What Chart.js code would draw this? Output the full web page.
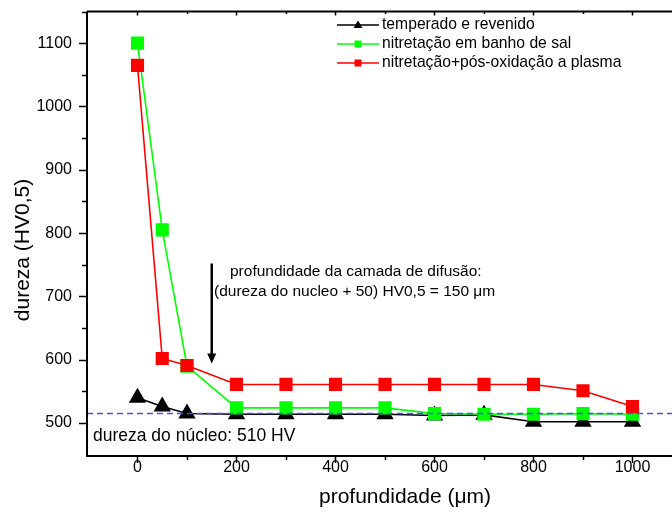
<!DOCTYPE html>
<html><head><meta charset="utf-8">
<script src="https://cdn.jsdelivr.net/npm/chart.js@4.4.1/dist/chart.umd.min.js"></script>
<style>
html,body{margin:0;padding:0;overflow:hidden;background:#fff;width:672px;height:513px}
#wrap{width:700px;height:513px}
</style>
</head><body>
<div id="wrap"><canvas id="c" width="700" height="513"></canvas></div>
<script>
// ---- data ----
const depth = [0, 50, 100, 200, 300, 400, 500, 600, 700, 800, 900, 1000];
const temperadoRevenido = [540, 526, 515, 514, 514, 514, 514, 512, 513, 502, 502, 502];
const nitretacaoBanhoSal = [1100, 805, 590, 524, 524, 524, 524, 515, 514, 514, 515, 514];
const nitretacaoPlasma = [1065, 602, 591, 561, 561, 561, 561, 561, 561, 561, 551, 526];
const seriesLabels = ['temperado e revenido', 'nitretação em banho de sal', 'nitretação+pós-oxidação a plasma'];
const coreHardness = 515;          // dashed reference line
const diffusionDepth = 150;        // arrow position (µm)
const arrowRange = [752, 594];     // arrow from / to (HV)
const xTickLabels = [0, 200, 400, 600, 800, 1000];
const xMinorTicks = [100, 300, 500, 700, 900, 1100];
const yTickLabels = [500, 600, 700, 800, 900, 1000, 1100];
const yMinorTicks = [550, 650, 750, 850, 950, 1050, 1150];
const xTitle = 'profundidade (\u03bcm)';
const yTitle = 'dureza (HV0,5)';
const xRange = [-102, 1100];
const yRange = [448, 1150];

const FONT = '"Liberation Sans", Arial, Helvetica, sans-serif';
const colors = ['#000000', '#00ff00', '#ff0000'];
const styles = ['triangle', 'rect', 'rect'];
const radii = [10, 9.3, 9.3];
const seriesData = [temperadoRevenido, nitretacaoBanhoSal, nitretacaoPlasma];

const datasets = seriesData.map((vals, i) => ({
  label: seriesLabels[i],
  data: depth.map((x, j) => ({x, y: vals[j]})),
  borderColor: colors[i],
  backgroundColor: colors[i],
  pointBackgroundColor: colors[i],
  pointBorderColor: colors[i],
  pointBorderWidth: 0,
  pointStyle: styles[i],
  pointRadius: radii[i],
  pointHoverRadius: radii[i],
  borderWidth: 1.6,
  tension: 0,
  order: 3 - i
}));
datasets.push({
  label: 'núcleo',
  data: [{x: xRange[0], y: coreHardness}, {x: xRange[1], y: coreHardness}],
  borderColor: '#4d4dff',
  borderWidth: 1.5,
  borderDash: [6, 4],
  pointRadius: 0,
  order: 0
});

const framePlugin = {
  id: 'frame',
  afterDraw(chart) {
    const {ctx, chartArea: a, scales: {x, y}} = chart;
    ctx.save();
    ctx.strokeStyle = '#000';
    ctx.lineWidth = 2;
    ctx.beginPath();
    ctx.moveTo(a.left, a.top); ctx.lineTo(a.left, a.bottom + 1);
    ctx.moveTo(a.left - 1, a.bottom); ctx.lineTo(a.right, a.bottom);
    ctx.moveTo(a.left, a.top); ctx.lineTo(a.right, a.top);
    ctx.stroke();
    ctx.lineWidth = 1.5;
    ctx.beginPath();
    const xt = (v, major) => {
      const px = Math.round(x.getPixelForValue(v)) + 0.5;
      ctx.moveTo(px, a.bottom); ctx.lineTo(px, a.bottom + (major ? 7 : 4));
      ctx.moveTo(px, a.top); ctx.lineTo(px, a.top + (major ? 4 : 2.5));
    };
    const yt = (v, major) => {
      const py = Math.round(y.getPixelForValue(v)) + 0.5;
      ctx.moveTo(a.left, py); ctx.lineTo(a.left - (major ? 8 : 5), py);
    };
    xTickLabels.forEach(v => xt(v, true));
    xMinorTicks.forEach(v => xt(v, false));
    yTickLabels.forEach(v => yt(v, true));
    yMinorTicks.forEach(v => yt(v, false));
    ctx.stroke();

    // tick labels
    ctx.fillStyle = '#000';
    ctx.font = '16px ' + FONT;
    ctx.textBaseline = 'middle';
    ctx.textAlign = 'center';
    xTickLabels.forEach(v => ctx.fillText(String(v), x.getPixelForValue(v), a.bottom + 12));
    ctx.textAlign = 'right';
    yTickLabels.forEach(v => ctx.fillText(String(v), a.left - 15, y.getPixelForValue(v)));

    // axis titles
    ctx.font = '21px ' + FONT;
    ctx.textAlign = 'center';
    ctx.fillText(xTitle, 405, 497);
    ctx.save();
    ctx.translate(23, 250);
    ctx.rotate(-Math.PI / 2);
    ctx.fillText(yTitle, 0, 0);
    ctx.restore();

    // arrow
    const ax = x.getPixelForValue(diffusionDepth);
    const ay0 = y.getPixelForValue(arrowRange[0]);
    const ay1 = y.getPixelForValue(arrowRange[1]);
    ctx.lineWidth = 2.5;
    ctx.beginPath();
    ctx.moveTo(ax, ay0); ctx.lineTo(ax, ay1 - 8);
    ctx.stroke();
    ctx.beginPath();
    ctx.moveTo(ax - 4.5, ay1 - 10); ctx.lineTo(ax + 4.5, ay1 - 10); ctx.lineTo(ax, ay1);
    ctx.closePath(); ctx.fill();

    // annotation texts
    ctx.textAlign = 'left';
    ctx.font = '15.5px ' + FONT;
    ctx.fillText('profundidade da camada de difusão:', 230, 272);
    ctx.fillText('(dureza do nucleo + 50) HV0,5 = 150 \u03bcm', 214, 292);
    ctx.font = '17.5px ' + FONT;
    ctx.fillText('dureza do núcleo: 510 HV', 93, 436);

    // legend
    const rows = [25, 44, 63];
    seriesLabels.forEach((lab, i) => {
      const yy = rows[i];
      ctx.strokeStyle = colors[i];
      ctx.lineWidth = 1.6;
      ctx.beginPath(); ctx.moveTo(337, yy); ctx.lineTo(379, yy); ctx.stroke();
      ctx.fillStyle = colors[i];
      if (styles[i] === 'triangle') {
        ctx.beginPath();
        ctx.moveTo(358, yy - 4.5); ctx.lineTo(362.5, yy + 3); ctx.lineTo(353.5, yy + 3);
        ctx.closePath(); ctx.fill();
      } else {
        ctx.fillRect(354.5, yy - 3.5, 7, 7);
      }
      ctx.fillStyle = '#000';
      ctx.font = '15.7px ' + FONT;
      ctx.fillText(lab, 382, yy);
    });
    ctx.restore();
  }
};

new Chart(document.getElementById('c'), {
  type: 'line',
  data: {datasets},
  plugins: [framePlugin],
  options: {
    responsive: false,
    animation: false,
    devicePixelRatio: 1,
    layout: {padding: {top: 11.5, right: 18, left: 0, bottom: 0}},
    plugins: {legend: {display: false}, tooltip: {enabled: false}},
    events: [],
    scales: {
      x: {
        type: 'linear',
        min: xRange[0], max: xRange[1],
        grid: {display: false, drawTicks: false},
        border: {display: false},
        ticks: {display: false},
        title: {display: false},
        afterFit: s => { s.height = 57; }
      },
      y: {
        type: 'linear',
        min: yRange[0], max: yRange[1],
        grid: {display: false, drawTicks: false},
        border: {display: false},
        ticks: {display: false},
        title: {display: false},
        afterFit: s => { s.width = 87; }
      }
    }
  }
});
</script>
</body></html>
